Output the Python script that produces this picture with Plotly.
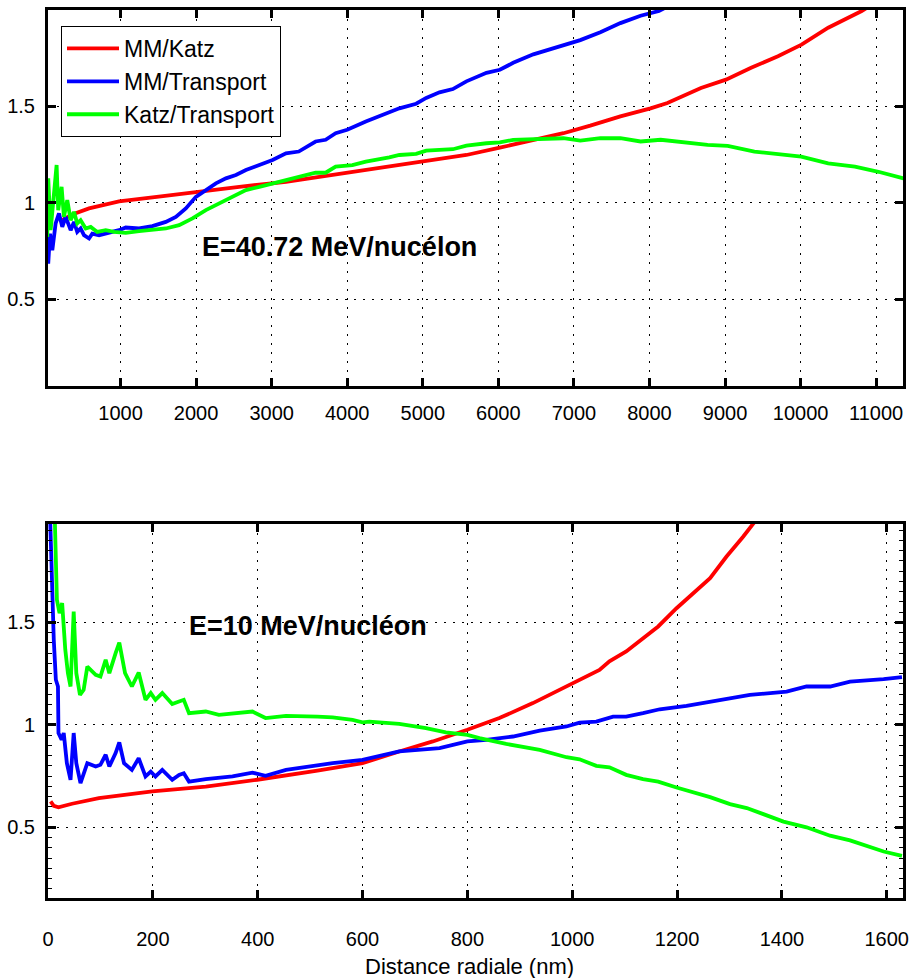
import plotly.graph_objects as go

# --- E = 40.72 MeV/nucleon (top panel) ---
top_red_x = [200, 361, 583, 980, 1534, 1997, 2571, 3189, 3802, 4246, 4690, 5045, 5577,
             6020, 6463, 6861, 7216, 7615, 8014, 8237, 8681, 9012, 9345, 9700, 10012,
             10365, 10808, 11000]
top_red_y = [0.905, 0.94, 0.971, 1.008, 1.033, 1.057, 1.083, 1.109, 1.144, 1.17, 1.196,
             1.214, 1.248, 1.286, 1.327, 1.361, 1.40, 1.448, 1.49, 1.518, 1.596, 1.639,
             1.70, 1.76, 1.82, 1.908, 1.995, 2.04]

top_blue_x = [43, 66, 97, 141, 185, 229, 274, 340, 384, 427, 472, 516, 583, 626, 715, 848,
              980, 1069, 1245, 1421, 1599, 1732, 1864, 1997, 2129, 2262, 2394, 2527, 2659,
              2836, 3012, 3189, 3359, 3581, 3714, 3847, 4000, 4246, 4690, 4912, 5045, 5221,
              5398, 5577, 5843, 6020, 6196, 6463, 6861, 7084, 7350, 7615, 7882, 8125, 8300]
top_blue_y = [0.684, 0.84, 0.754, 0.893, 0.945, 0.875, 0.927, 0.858, 0.901, 0.849, 0.867,
              0.832, 0.815, 0.84, 0.832, 0.844, 0.858, 0.872, 0.867, 0.879, 0.901, 0.927,
              0.971, 1.031, 1.066, 1.101, 1.127, 1.144, 1.17, 1.196, 1.222, 1.257, 1.266,
              1.318, 1.327, 1.361, 1.379, 1.422, 1.49, 1.514, 1.544, 1.573, 1.59, 1.63,
              1.674, 1.69, 1.726, 1.77, 1.82, 1.844, 1.885, 1.932, 1.97, 1.995, 2.03]

top_green_x = [30, 43, 75, 119, 154, 175, 220, 251, 295, 340, 384, 427, 472, 539, 605, 692,
               804, 914, 1069, 1245, 1421, 1599, 1775, 1952, 2129, 2306, 2482, 2659, 2836,
               3012, 3189, 3359, 3581, 3714, 3847, 4068, 4246, 4556, 4690, 4912, 5045, 5398,
               5577, 5843, 6020, 6196, 6463, 6861, 7084, 7350, 7615, 7882, 8148, 8769, 9035,
               9389, 10009, 10365, 10719, 11030, 11362]
top_green_y = [0.823, 1.127, 0.858, 1.03, 1.196, 0.962, 1.083, 0.927, 1.014, 0.91, 0.953,
               0.893, 0.91, 0.867, 0.875, 0.849, 0.858, 0.849, 0.844, 0.853, 0.858, 0.867,
               0.884, 0.919, 0.962, 0.997, 1.031, 1.066, 1.083, 1.10, 1.118, 1.13, 1.156,
               1.156, 1.188, 1.196, 1.214, 1.236, 1.248, 1.254, 1.271, 1.278, 1.297, 1.309,
               1.313, 1.327, 1.33, 1.335, 1.323, 1.335, 1.335, 1.318, 1.327, 1.30, 1.295,
               1.266, 1.24, 1.205, 1.1875, 1.161, 1.127]

top_xticks = [1000, 2000, 3000, 4000, 5000, 6000, 7000, 8000, 9000, 10000, 11000]

# --- E = 10 MeV/nucleon (bottom panel) ---
bot_red_x = [5, 11, 20, 46, 97, 199, 301, 399, 514, 543, 600, 670, 734, 800, 861, 925,
             1000, 1052, 1071, 1103, 1164, 1199, 1263, 1294, 1326, 1345, 1360]
bot_red_y = [0.626, 0.605, 0.598, 0.615, 0.642, 0.675, 0.699, 0.732, 0.777, 0.789, 0.813,
             0.87, 0.919, 0.976, 1.033, 1.106, 1.203, 1.268, 1.31, 1.358, 1.48, 1.569,
             1.716, 1.82, 1.918, 1.976, 2.03]

bot_blue_x = [3, 8, 11, 15, 19, 20, 26, 30, 36, 43, 49, 54, 62, 75, 91, 100, 110, 117, 129,
              136, 145, 160, 173, 186, 196, 205, 218, 237, 250, 259, 269, 301, 352, 390,
              415, 454, 514, 543, 600, 670, 747, 800, 836, 887, 938, 989, 1014, 1046, 1078,
              1103, 1135, 1167, 1218, 1269, 1339, 1409, 1447, 1492, 1530, 1594, 1629]
bot_blue_y = [2.1, 1.61, 1.415, 1.22, 1.187, 0.96, 0.927, 0.96, 0.813, 0.732, 0.96, 0.813,
              0.716, 0.813, 0.797, 0.805, 0.854, 0.797, 0.862, 0.914, 0.813, 0.78, 0.837,
              0.748, 0.772, 0.748, 0.78, 0.732, 0.756, 0.764, 0.723, 0.735, 0.748, 0.767,
              0.751, 0.78, 0.805, 0.813, 0.829, 0.87, 0.886, 0.919, 0.927, 0.943, 0.972,
              0.992, 1.011, 1.016, 1.04, 1.04, 1.057, 1.076, 1.093, 1.114, 1.146, 1.162,
              1.187, 1.187, 1.211, 1.223, 1.233]

bot_green_x = [12, 17, 22, 27, 33, 38, 43, 49, 54, 61, 68, 75, 91, 100, 110, 117, 129, 136,
               147, 160, 173, 186, 196, 205, 218, 237, 250, 259, 269, 301, 326, 352, 390,
               415, 454, 514, 543, 581, 600, 613, 670, 721, 759, 800, 823, 874, 938, 989,
               1014, 1046, 1071, 1103, 1135, 1164, 1199, 1263, 1301, 1333, 1403, 1447, 1492,
               1530, 1594, 1629]
bot_green_y = [2.1, 1.61, 1.545, 1.594, 1.366, 1.252, 1.187, 1.553, 1.252, 1.146, 1.171,
               1.284, 1.244, 1.236, 1.317, 1.252, 1.35, 1.401, 1.252, 1.187, 1.255, 1.122,
               1.155, 1.122, 1.155, 1.102, 1.114, 1.122, 1.057, 1.065, 1.049, 1.057, 1.065,
               1.033, 1.044, 1.04, 1.036, 1.024, 1.012, 1.016, 1.005, 0.984, 0.963, 0.951,
               0.935, 0.907, 0.878, 0.842, 0.832, 0.80, 0.793, 0.756, 0.735, 0.723, 0.694,
               0.647, 0.613, 0.594, 0.528, 0.50, 0.459, 0.436, 0.382, 0.361]

bot_xticks = [0, 200, 400, 600, 800, 1000, 1200, 1400, 1600]
yticks = [0.5, 1, 1.5]

names = ["MM/Katz", "MM/Transport", "Katz/Transport"]
colors = ["#ff0000", "#0000ff", "#00ff00"]

FONT = "Liberation Sans, Arial, Helvetica, sans-serif"

fig = go.Figure()

top = [(top_red_x, top_red_y), (top_blue_x, top_blue_y), (top_green_x, top_green_y)]
bot = [(bot_red_x, bot_red_y), (bot_blue_x, bot_blue_y), (bot_green_x, bot_green_y)]

for i, (xs, ys) in enumerate(top):
    fig.add_trace(go.Scatter(x=xs, y=ys, mode="lines", name=names[i],
                             legendgroup=names[i],
                             line=dict(color=colors[i], width=3.8),
                             xaxis="x", yaxis="y"))
for i, (xs, ys) in enumerate(bot):
    fig.add_trace(go.Scatter(x=xs, y=ys, mode="lines", name=names[i],
                             showlegend=False,
                             line=dict(color=colors[i], width=3.8),
                             xaxis="x2", yaxis="y2"))

axis_style = dict(
    showline=True, linecolor="black", linewidth=3, mirror="ticks",
    ticks="inside", ticklen=8, tickwidth=3, tickcolor="black",
    showgrid=True, gridcolor="black", gridwidth=1, griddash="2px,7px",
    zeroline=False, automargin=False,
    tickfont=dict(family=FONT, size=20, color="black"),
)

fig.update_layout(
    width=914, height=978,
    margin=dict(l=0, r=0, t=0, b=0),
    paper_bgcolor="white", plot_bgcolor="white",
    font=dict(family=FONT, color="black"),
    xaxis=dict(axis_style, domain=[48 / 914, 903 / 914], range=[40, 11355],
               tickvals=top_xticks, ticktext=[str(v) for v in top_xticks],
               anchor="y", ticklabelstandoff=7),
    yaxis=dict(axis_style, domain=[1 - 386 / 978, 1 - 10 / 978], range=[0.05, 2.0],
               tickvals=yticks, ticktext=["0.5", "1", "1.5"], anchor="x",
               ticklabelstandoff=6),
    xaxis2=dict(axis_style, domain=[48 / 914, 903 / 914], range=[0, 1631],
                tickvals=bot_xticks, ticktext=[str(v) for v in bot_xticks],
                anchor="y2", ticklabelstandoff=21),
    yaxis2=dict(axis_style, domain=[1 - 898 / 978, 1 - 524 / 978], range=[0.155, 1.98],
                tickvals=yticks, ticktext=["0.5", "1", "1.5"], anchor="x2",
                ticklabelstandoff=6,
                minor=dict(ticks="inside", dtick=0.05, tick0=0, ticklen=4,
                           tickwidth=1, tickcolor="black", showgrid=False)),
    legend=dict(x=61 / 914, y=1 - 26 / 978, xanchor="left", yanchor="top",
                bgcolor="white", bordercolor="black", borderwidth=1,
                font=dict(family=FONT, size=23, color="black"),
                tracegroupgap=0, itemwidth=52),
    annotations=[
        dict(text="<b>E=40.72 MeV/nucélon</b>", xref="paper", yref="paper",
             x=339 / 914, y=1 - 247 / 978, xanchor="center", yanchor="middle",
             showarrow=False, font=dict(family=FONT, size=27, color="black")),
        dict(text="<b>E=10 MeV/nucléon</b>", xref="paper", yref="paper",
             x=308 / 914, y=1 - 626 / 978, xanchor="center", yanchor="middle",
             showarrow=False, font=dict(family=FONT, size=27, color="black")),
        dict(text="Distance radiale (nm)", xref="paper", yref="paper",
             x=469 / 914, y=1 - 966 / 978, xanchor="center", yanchor="middle",
             showarrow=False, font=dict(family=FONT, size=22, color="black")),
    ],
)

# drop the default 8px body margin so the figure fills the window exactly
fig.write_html("out.html", config={"displayModeBar": False},
               post_script="document.body.style.margin='0';")
